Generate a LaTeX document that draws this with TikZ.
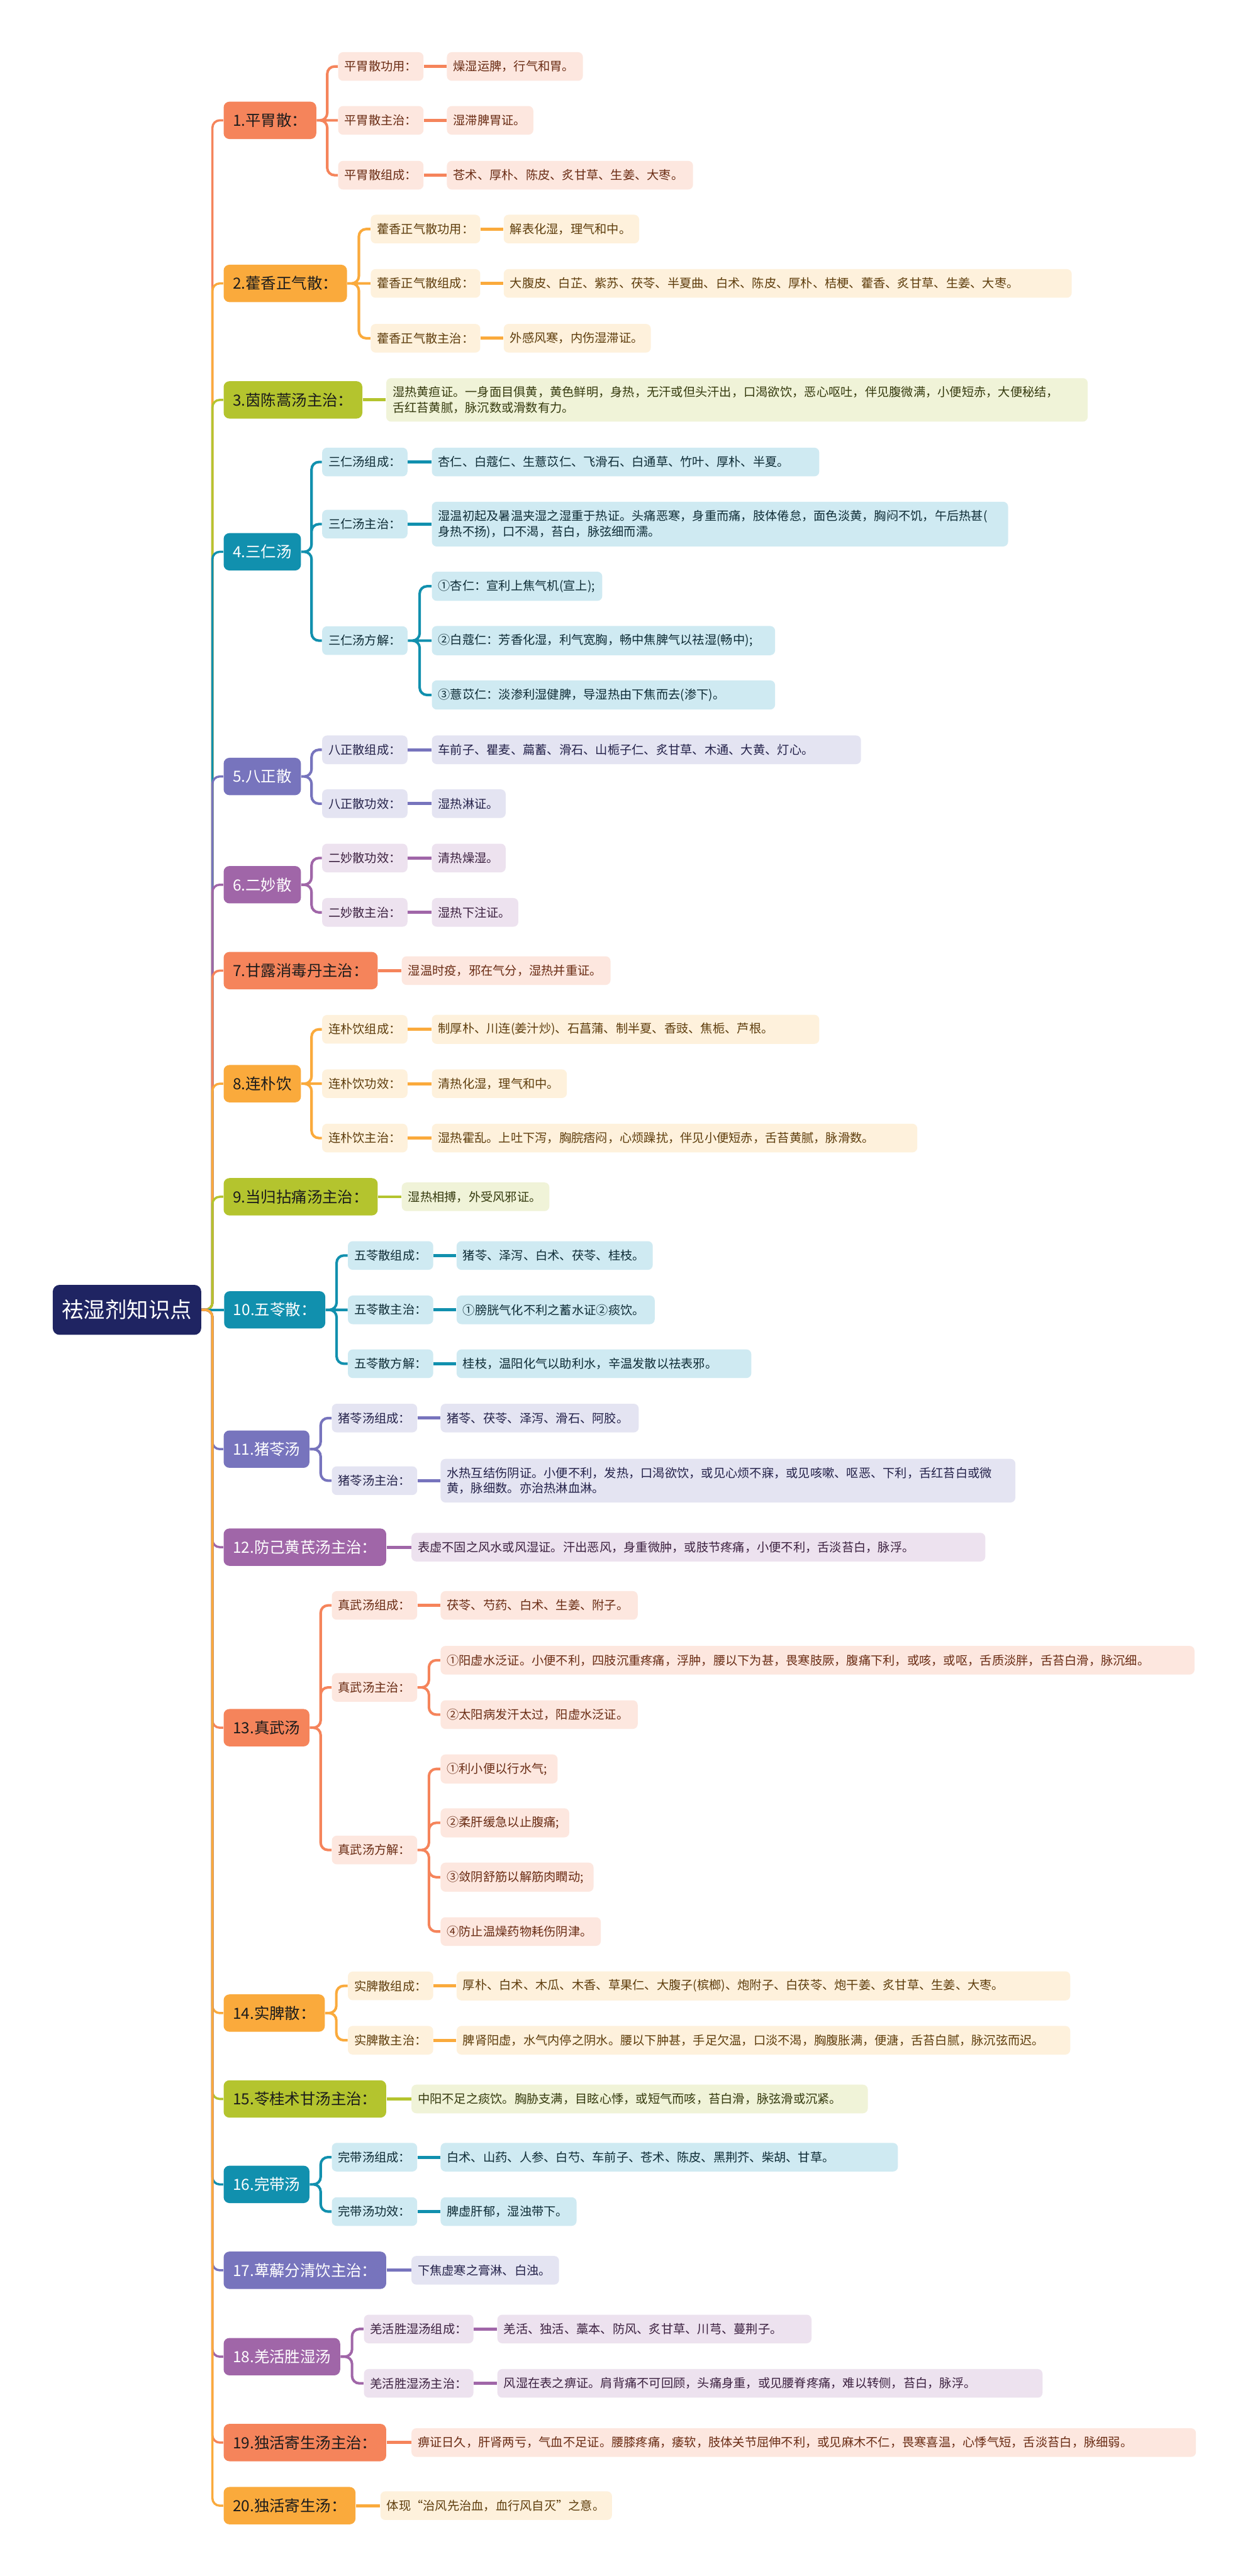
\documentclass[tikz,border=0pt]{standalone}
\usepackage{fontspec}
\setmainfont{Noto Sans CJK SC}
\usetikzlibrary{calc, backgrounds}
\definecolor{rootc}{HTML}{1F2462}
\definecolor{mtxt}{HTML}{1C1C1C}
\definecolor{cA}{HTML}{F5845B}
\definecolor{lA}{HTML}{FDE7DF}
\definecolor{tA}{HTML}{6A2C14}
\definecolor{cB}{HTML}{FAAA3C}
\definecolor{lB}{HTML}{FEF1DC}
\definecolor{tB}{HTML}{5E3D0C}
\definecolor{cC}{HTML}{B4C42E}
\definecolor{lC}{HTML}{F0F3D8}
\definecolor{tC}{HTML}{353A0E}
\definecolor{cD}{HTML}{1190AE}
\definecolor{lD}{HTML}{CFEAF2}
\definecolor{tD}{HTML}{0E2C36}
\definecolor{cE}{HTML}{7774BD}
\definecolor{lE}{HTML}{E4E4F2}
\definecolor{tE}{HTML}{24224A}
\definecolor{cF}{HTML}{A066A8}
\definecolor{lF}{HTML}{EDE2EF}
\definecolor{tF}{HTML}{3C2140}
\tikzset{
	rbox/.style={fill=rootc, text=white, rounded corners=1.4mm, minimum height=10.3mm,
		inner xsep=1.9mm, inner ysep=0pt, anchor=west, font=\fontsize{12.7}{15}\selectfont},
	mbox/.style={rounded corners=1.2mm, minimum height=7.7mm, inner xsep=1.9mm,
		inner ysep=0pt, anchor=west, font=\fontsize{9}{11}\selectfont},
	sbox/.style={rounded corners=1mm, minimum height=5.9mm, inner xsep=1.3mm,
		inner ysep=1.7mm, anchor=west, align=left, font=\fontsize{7.1}{9.1}\selectfont},
	mA/.style={mbox, fill=cA, text=mtxt}, sA/.style={sbox, fill=lA, text=tA},
	mB/.style={mbox, fill=cB, text=mtxt}, sB/.style={sbox, fill=lB, text=tB},
	mC/.style={mbox, fill=cC, text=mtxt}, sC/.style={sbox, fill=lC, text=tC},
	mD/.style={mbox, fill=cD, text=white}, sD/.style={sbox, fill=lD, text=tD},
	mE/.style={mbox, fill=cE, text=white}, sE/.style={sbox, fill=lE, text=tE},
	mF/.style={mbox, fill=cF, text=white}, sF/.style={sbox, fill=lF, text=tF},
	elbow/.style={to path={-- ($(\tikztostart)!.5!(\tikztostart-|\tikztotarget)$) |- (\tikztotarget)}},
	trunk/.style={line width=1.3pt, draw=#1, rounded corners=1.5mm},
	link/.style={line width=1.5pt, draw=#1, rounded corners=1.5mm},
	stub/.style={line width=1.8pt, draw=#1}
}
\begin{document}
\begin{tikzpicture}
	\useasboundingbox (0,0) rectangle (25.6,-53.08);
	\node[rbox] (root) at (1.08,-26.99) {祛湿剂知识点};

	\node[mA] (m1) at (4.60,-2.48) {1.平胃散：};
	\node[sA] (a11) at (6.96,-1.37) {平胃散功用：};
	\node[sA, text width=25.4mm] (b11) at (9.20,-1.37) {燥湿运脾，行气和胃。};
	\node[sA] (a12) at (6.96,-2.48) {平胃散主治：};
	\node[sA, text width=15.2mm] (b12) at (9.20,-2.48) {湿滞脾胃证。};
	\node[sA] (a13) at (6.96,-3.61) {平胃散组成：};
	\node[sA, text width=48.1mm] (b13) at (9.20,-3.61) {苍术、厚朴、陈皮、炙甘草、生姜、大枣。};

	\node[mB] (m2) at (4.60,-5.84) {2.藿香正气散：};
	\node[sB] (a21) at (7.63,-4.72) {藿香正气散功用：};
	\node[sB, text width=25.3mm] (b21) at (10.37,-4.72) {解表化湿，理气和中。};
	\node[sB] (a22) at (7.63,-5.84) {藿香正气散组成：};
	\node[sB, text width=114.4mm] (b22) at (10.37,-5.84) {大腹皮、白芷、紫苏、茯苓、半夏曲、白术、陈皮、厚朴、桔梗、藿香、炙甘草、生姜、大枣。};
	\node[sB] (a23) at (7.63,-6.97) {藿香正气散主治：};
	\node[sB, text width=27.7mm] (b23) at (10.37,-6.97) {外感风寒，内伤湿滞证。};

	\node[mC] (m3) at (4.60,-8.24) {3.茵陈蒿汤主治：};
	\node[sC, text width=141.9mm] (b3) at (7.95,-8.24) {湿热黄疸证。一身面目俱黄，黄色鲜明，身热，无汗或但头汗出，口渴欲饮，恶心呕吐，伴见腹微满，小便短赤，大便秘结，\\舌红苔黄腻，脉沉数或滑数有力。};

	\node[mD] (m4) at (4.60,-11.37) {4.三仁汤};
	\node[sD] (a41) at (6.63,-9.52) {三仁汤组成：};
	\node[sD, text width=77.2mm] (b41) at (8.89,-9.52) {杏仁、白蔻仁、生薏苡仁、飞滑石、白通草、竹叶、厚朴、半夏。};
	\node[sD] (a42) at (6.63,-10.80) {三仁汤主治：};
	\node[sD, text width=116.1mm] (b42) at (8.89,-10.80) {湿温初起及暑温夹湿之湿重于热证。头痛恶寒，身重而痛，肢体倦怠，面色淡黄，胸闷不饥，午后热甚(\\身热不扬)，口不渴，苔白，脉弦细而濡。};
	\node[sD] (a43) at (6.63,-13.20) {三仁汤方解：};
	\node[sD, text width=32.5mm] (c431) at (8.89,-12.08) {①杏仁：宣利上焦气机(宣上);};
	\node[sD, text width=68.1mm] (c432) at (8.89,-13.20) {②白蔻仁：芳香化湿，利气宽胸，畅中焦脾气以祛湿(畅中);};
	\node[sD, text width=68.1mm] (c433) at (8.89,-14.32) {③薏苡仁：淡渗利湿健脾，导湿热由下焦而去(渗下)。};

	\node[mE] (m5) at (4.60,-16.00) {5.八正散};
	\node[sE] (a51) at (6.63,-15.45) {八正散组成：};
	\node[sE, text width=85.8mm] (b51) at (8.89,-15.45) {车前子、瞿麦、萹蓄、滑石、山栀子仁、炙甘草、木通、大黄、灯心。};
	\node[sE] (a52) at (6.63,-16.56) {八正散功效：};
	\node[sE, text width=12.6mm] (b52) at (8.89,-16.56) {湿热淋证。};

	\node[mF] (m6) at (4.60,-18.23) {6.二妙散};
	\node[sF] (a61) at (6.63,-17.68) {二妙散功效：};
	\node[sF, text width=12.6mm] (b61) at (8.89,-17.68) {清热燥湿。};
	\node[sF] (a62) at (6.63,-18.80) {二妙散主治：};
	\node[sF, text width=15.2mm] (b62) at (8.89,-18.80) {湿热下注证。};

	\node[mA] (m7) at (4.60,-20.00) {7.甘露消毒丹主治：};
	\node[sA, text width=40.4mm] (b7) at (8.27,-20.00) {湿温时疫，邪在气分，湿热并重证。};

	\node[mB] (m8) at (4.60,-22.33) {8.连朴饮};
	\node[sB] (a81) at (6.63,-21.21) {连朴饮组成：};
	\node[sB, text width=77.2mm] (b81) at (8.89,-21.21) {制厚朴、川连(姜汁炒)、石菖蒲、制半夏、香豉、焦栀、芦根。};
	\node[sB] (a82) at (6.63,-22.33) {连朴饮功效：};
	\node[sB, text width=25.2mm] (b82) at (8.89,-22.33) {清热化湿，理气和中。};
	\node[sB] (a83) at (6.63,-23.45) {连朴饮主治：};
	\node[sB, text width=97.4mm] (b83) at (8.89,-23.45) {湿热霍乱。上吐下泻，胸脘痞闷，心烦躁扰，伴见小便短赤，舌苔黄腻，脉滑数。};

	\node[mC] (m9) at (4.60,-24.66) {9.当归拈痛汤主治：};
	\node[sC, text width=27.8mm] (b9) at (8.27,-24.66) {湿热相搏，外受风邪证。};

	\node[mD] (m10) at (4.61,-26.99) {10.五苓散：};
	\node[sD] (a101) at (7.16,-25.87) {五苓散组成：};
	\node[sD, text width=37.8mm] (b101) at (9.40,-25.87) {猪苓、泽泻、白术、茯苓、桂枝。};
	\node[sD] (a102) at (7.16,-26.99) {五苓散主治：};
	\node[sD, text width=38.2mm] (b102) at (9.40,-26.99) {①膀胱气化不利之蓄水证②痰饮。};
	\node[sD] (a103) at (7.16,-28.10) {五苓散方解：};
	\node[sD, text width=58.1mm] (b103) at (9.40,-28.10) {桂枝，温阳化气以助利水，辛温发散以祛表邪。};

	\node[mE] (m11) at (4.60,-29.86) {11.猪苓汤};
	\node[sE] (a111) at (6.83,-29.22) {猪苓汤组成：};
	\node[sE, text width=38.2mm] (b111) at (9.07,-29.22) {猪苓、茯苓、泽泻、滑石、阿胶。};
	\node[sE] (a112) at (6.83,-30.51) {猪苓汤主治：};
	\node[sE, text width=115.8mm] (b112) at (9.07,-30.51) {水热互结伤阴证。小便不利，发热，口渴欲饮，或见心烦不寐，或见咳嗽、呕恶、下利，舌红苔白或微\\黄，脉细数。亦治热淋血淋。};

	\node[mF] (m12) at (4.60,-31.88) {12.防己黄芪汤主治：};
	\node[sF, text width=115.6mm] (b120) at (8.47,-31.88) {表虚不固之风水或风湿证。汗出恶风，身重微肿，或肢节疼痛，小便不利，舌淡苔白，脉浮。};

	\node[mA] (m13) at (4.60,-35.60) {13.真武汤};
	\node[sA] (a131) at (6.83,-33.08) {真武汤组成：};
	\node[sA, text width=38.0mm] (b131) at (9.07,-33.08) {茯苓、芍药、白术、生姜、附子。};
	\node[sA] (a132) at (6.83,-34.77) {真武汤主治：};
	\node[sA, text width=152.7mm] (c1321) at (9.07,-34.21) {①阳虚水泛证。小便不利，四肢沉重疼痛，浮肿，腰以下为甚，畏寒肢厥，腹痛下利，或咳，或呕，舌质淡胖，舌苔白滑，脉沉细。};
	\node[sA, text width=38.0mm] (c1322) at (9.07,-35.33) {②太阳病发汗太过，阳虚水泛证。};
	\node[sA] (a133) at (6.83,-38.12) {真武汤方解：};
	\node[sA, text width=21.5mm] (c1331) at (9.07,-36.45) {①利小便以行水气;};
	\node[sA, text width=23.9mm] (c1332) at (9.07,-37.56) {②柔肝缓急以止腹痛;};
	\node[sA, text width=28.9mm] (c1333) at (9.07,-38.68) {③敛阴舒筋以解筋肉瞤动;};
	\node[sA, text width=30.4mm] (c1334) at (9.07,-39.80) {④防止温燥药物耗伤阴津。};

	\node[mB] (m14) at (4.60,-41.48) {14.实脾散：};
	\node[sB] (a141) at (7.16,-40.92) {实脾散组成：};
	\node[sB, text width=123.8mm] (b141) at (9.40,-40.92) {厚朴、白术、木瓜、木香、草果仁、大腹子(槟榔)、炮附子、白茯苓、炮干姜、炙甘草、生姜、大枣。};
	\node[sB] (a142) at (7.16,-42.04) {实脾散主治：};
	\node[sB, text width=123.8mm] (b142) at (9.40,-42.04) {脾肾阳虚，水气内停之阴水。腰以下肿甚，手足欠温，口淡不渴，胸腹胀满，便溏，舌苔白腻，脉沉弦而迟。};

	\node[mC] (m15) at (4.60,-43.25) {15.苓桂术甘汤主治：};
	\node[sC, text width=91.4mm] (b15) at (8.47,-43.25) {中阳不足之痰饮。胸胁支满，目眩心悸，或短气而咳，苔白滑，脉弦滑或沉紧。};

	\node[mD] (m16) at (4.60,-45.01) {16.完带汤};
	\node[sD] (a161) at (6.83,-44.45) {完带汤组成：};
	\node[sD, text width=91.6mm] (b161) at (9.07,-44.45) {白术、山药、人参、白芍、车前子、苍术、陈皮、黑荆芥、柴胡、甘草。};
	\node[sD] (a162) at (6.83,-45.57) {完带汤功效：};
	\node[sD, text width=25.4mm] (b162) at (9.07,-45.57) {脾虚肝郁，湿浊带下。};

	\node[mE] (m17) at (4.60,-46.78) {17.萆薢分清饮主治：};
	\node[sE, text width=27.8mm] (b17) at (8.47,-46.78) {下焦虚寒之膏淋、白浊。};

	\node[mF] (m18) at (4.60,-48.56) {18.羌活胜湿汤};
	\node[sF] (a181) at (7.49,-47.99) {羌活胜湿汤组成：};
	\node[sF, text width=62.1mm] (b181) at (10.24,-47.99) {羌活、独活、藁本、防风、炙甘草、川芎、蔓荆子。};
	\node[sF] (a182) at (7.49,-49.11) {羌活胜湿汤主治：};
	\node[sF, text width=109.7mm] (b182) at (10.24,-49.11) {风湿在表之痹证。肩背痛不可回顾，头痛身重，或见腰脊疼痛，难以转侧，苔白，脉浮。};

	\node[mA] (m19) at (4.60,-50.33) {19.独活寄生汤主治：};
	\node[sA, text width=159.0mm] (b19) at (8.47,-50.33) {痹证日久，肝肾两亏，气血不足证。腰膝疼痛，痿软，肢体关节屈伸不利，或见麻木不仁，畏寒喜温，心悸气短，舌淡苔白，脉细弱。};

	\node[mB] (m20) at (4.60,-51.63) {20.独活寄生汤：};
	\node[sB, text width=45.1mm] (b20) at (7.83,-51.63) {体现“治风先治血，血行风自灭”之意。};

	\begin{scope}[on background layer]
		\fill[white] (0,0) rectangle (25.6,-53.08);
		\draw[trunk=cA] (root.east) to[elbow] (m1.west);
		\draw[trunk=cB] (root.east) to[elbow] (m2.west);
		\draw[trunk=cC] (root.east) to[elbow] (m3.west);
		\draw[trunk=cD] (root.east) to[elbow] (m4.west);
		\draw[trunk=cE] (root.east) to[elbow] (m5.west);
		\draw[trunk=cF] (root.east) to[elbow] (m6.west);
		\draw[trunk=cA] (root.east) to[elbow] (m7.west);
		\draw[trunk=cB] (root.east) to[elbow] (m8.west);
		\draw[trunk=cC] (root.east) to[elbow] (m9.west);
		\draw[trunk=cD] (root.east) -- (m10.west);
		\draw[trunk=cE] (root.east) to[elbow] (m11.west);
		\draw[trunk=cF] (root.east) to[elbow] (m12.west);
		\draw[trunk=cA] (root.east) to[elbow] (m13.west);
		\draw[trunk=cB] (root.east) to[elbow] (m14.west);
		\draw[trunk=cC] (root.east) to[elbow] (m15.west);
		\draw[trunk=cD] (root.east) to[elbow] (m16.west);
		\draw[trunk=cE] (root.east) to[elbow] (m17.west);
		\draw[trunk=cF] (root.east) to[elbow] (m18.west);
		\draw[trunk=cA] (root.east) to[elbow] (m19.west);
		\draw[trunk=cB] (root.east) to[elbow] (m20.west);

		\draw[link=cA] (m1.east) to[elbow] (a11.west) (m1.east) to[elbow] (a13.west) (m1.east) -- (a12.west);
		\draw[stub=cA] (a11.east) -- (b11.west) (a12.east) -- (b12.west) (a13.east) -- (b13.west);
		\draw[link=cB] (m2.east) to[elbow] (a21.west) (m2.east) to[elbow] (a23.west) (m2.east) -- (a22.west);
		\draw[stub=cB] (a21.east) -- (b21.west) (a22.east) -- (b22.west) (a23.east) -- (b23.west);
		\draw[stub=cC] (m3.east) -- (b3.west);
		\draw[link=cD] (m4.east) to[elbow] (a41.west) (m4.east) to[elbow] (a42.west) (m4.east) to[elbow] (a43.west);
		\draw[stub=cD] (a41.east) -- (b41.west) (a42.east) -- (b42.west);
		\draw[link=cD] (a43.east) to[elbow] (c431.west) (a43.east) to[elbow] (c433.west) (a43.east) -- (c432.west);
		\draw[link=cE] (m5.east) to[elbow] (a51.west) (m5.east) to[elbow] (a52.west);
		\draw[stub=cE] (a51.east) -- (b51.west) (a52.east) -- (b52.west);
		\draw[link=cF] (m6.east) to[elbow] (a61.west) (m6.east) to[elbow] (a62.west);
		\draw[stub=cF] (a61.east) -- (b61.west) (a62.east) -- (b62.west);
		\draw[stub=cA] (m7.east) -- (b7.west);
		\draw[link=cB] (m8.east) to[elbow] (a81.west) (m8.east) to[elbow] (a83.west) (m8.east) -- (a82.west);
		\draw[stub=cB] (a81.east) -- (b81.west) (a82.east) -- (b82.west) (a83.east) -- (b83.west);
		\draw[stub=cC] (m9.east) -- (b9.west);
		\draw[link=cD] (m10.east) to[elbow] (a101.west) (m10.east) to[elbow] (a103.west) (m10.east) -- (a102.west);
		\draw[stub=cD] (a101.east) -- (b101.west) (a102.east) -- (b102.west) (a103.east) -- (b103.west);
		\draw[link=cE] (m11.east) to[elbow] (a111.west) (m11.east) to[elbow] (a112.west);
		\draw[stub=cE] (a111.east) -- (b111.west) (a112.east) -- (b112.west);
		\draw[stub=cF] (m12.east) -- (b120.west);
		\draw[link=cA] (m13.east) to[elbow] (a131.west) (m13.east) to[elbow] (a132.west) (m13.east) to[elbow] (a133.west);
		\draw[stub=cA] (a131.east) -- (b131.west);
		\draw[link=cA] (a132.east) to[elbow] (c1321.west) (a132.east) to[elbow] (c1322.west);
		\draw[link=cA] (a133.east) to[elbow] (c1331.west) (a133.east) to[elbow] (c1332.west) (a133.east) to[elbow] (c1333.west) (a133.east) to[elbow] (c1334.west);
		\draw[link=cB] (m14.east) to[elbow] (a141.west) (m14.east) to[elbow] (a142.west);
		\draw[stub=cB] (a141.east) -- (b141.west) (a142.east) -- (b142.west);
		\draw[stub=cC] (m15.east) -- (b15.west);
		\draw[link=cD] (m16.east) to[elbow] (a161.west) (m16.east) to[elbow] (a162.west);
		\draw[stub=cD] (a161.east) -- (b161.west) (a162.east) -- (b162.west);
		\draw[stub=cE] (m17.east) -- (b17.west);
		\draw[link=cF] (m18.east) to[elbow] (a181.west) (m18.east) to[elbow] (a182.west);
		\draw[stub=cF] (a181.east) -- (b181.west) (a182.east) -- (b182.west);
		\draw[stub=cA] (m19.east) -- (b19.west);
		\draw[stub=cB] (m20.east) -- (b20.west);
	\end{scope}
\end{tikzpicture}
\end{document}
